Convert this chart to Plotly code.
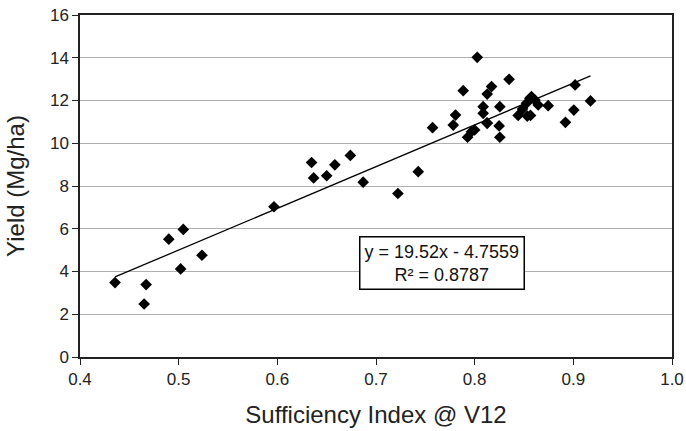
import plotly.graph_objects as go
import numpy as np

# Sufficiency index at V12 (x) and yield in Mg/ha (y)
si = [0.4355, 0.465, 0.467, 0.490, 0.5047, 0.502, 0.5236, 0.5966,
      0.6347, 0.6368, 0.650, 0.6583, 0.674, 0.687, 0.7222, 0.7428,
      0.7573, 0.7783, 0.7806, 0.7884, 0.7928, 0.7968, 0.8026, 0.8086,
      0.8086, 0.8127, 0.8127, 0.8171, 0.8255, 0.8248, 0.8255, 0.8349,
      0.8441, 0.8485, 0.8525, 0.856, 0.8576, 0.8566, 0.861, 0.8644,
      0.8745, 0.892, 0.9005, 0.9018, 0.9174, 0.8125, 0.8000, 0.8533]
yld = [3.48, 2.48, 3.39, 5.51, 5.97, 4.12, 4.76, 7.03,
       9.10, 8.38, 8.48, 8.99, 9.43, 8.18, 7.65, 8.67,
       10.73, 10.85, 11.32, 12.46, 10.28, 10.54, 14.02, 11.71,
       11.40, 10.93, 12.30, 12.65, 11.71, 10.81, 10.28, 12.99,
       11.30, 11.60, 11.87, 12.10, 12.18, 11.30, 12.02, 11.79,
       11.76, 10.98, 11.55, 12.73, 11.98, 10.96, 10.62, 11.27]

slope = 19.52
intercept = -4.7559
r2 = 0.8787

x_ticks = [0.4, 0.5, 0.6, 0.7, 0.8, 0.9, 1.0]
y_ticks = [0, 2, 4, 6, 8, 10, 12, 14, 16]

fit_x = np.array([min(si), max(si)])
fit_y = slope * fit_x + intercept

font_family = "Liberation Sans, Arial, sans-serif"
ink = "#222"

fig = go.Figure()
fig.add_trace(go.Scatter(
    x=fit_x, y=fit_y, mode="lines",
    line=dict(color="black", width=1.3),
    showlegend=False, hoverinfo="skip"))
fig.add_trace(go.Scatter(
    x=si, y=yld, mode="markers",
    marker=dict(symbol="diamond", size=9, color="black",
                line=dict(width=0)),
    showlegend=False))

fig.add_annotation(
    x=0.612, y=0.275, xref="paper", yref="paper",
    xanchor="center", yanchor="middle",
    text=f"y = {slope}x - {-intercept}<br>R² = {r2}",
    showarrow=False, align="center",
    font=dict(family=font_family, size=18, color="#111"),
    bgcolor="white", bordercolor="black", borderwidth=1.5, borderpad=4)

fig.update_layout(
    width=686, height=431,
    margin=dict(l=80, r=14, t=15, b=74, autoexpand=False),
    paper_bgcolor="white", plot_bgcolor="white",
    font=dict(family=font_family, size=16, color=ink),
    xaxis=dict(range=[0.4, 1.0], tickvals=x_ticks, tickformat=".1f",
               showgrid=False, zeroline=False, automargin=False,
               showline=True, linecolor=ink, linewidth=1.5, mirror=True,
               ticks="outside", ticklen=6, tickcolor=ink,
               tickfont=dict(size=17, color=ink),
               title=dict(text="Sufficiency Index @ V12",
                          font=dict(size=24, color=ink), standoff=18)),
    yaxis=dict(range=[0, 16], tickvals=y_ticks,
               showgrid=True, gridcolor="#b0b0b0", gridwidth=1,
               zeroline=False, automargin=False,
               showline=True, linecolor=ink, linewidth=1.5, mirror=True,
               ticks="outside", ticklen=6, tickcolor=ink,
               tickfont=dict(size=17, color=ink),
               title=dict(text="Yield (Mg/ha)",
                          font=dict(size=24, color=ink), standoff=19)),
)

fig.write_html(
    "out.html",
    config={"displayModeBar": False},
    post_script="document.body.style.margin='0';"
                "document.body.style.overflow='hidden';")
